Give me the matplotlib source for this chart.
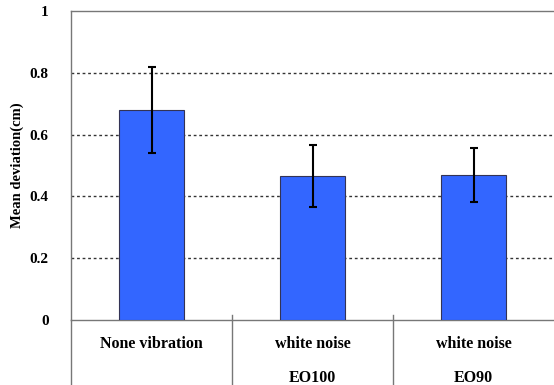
import matplotlib.pyplot as plt
from matplotlib import transforms
import numpy as np

# Data -----
categories = ['None vibration', 'white noise', 'white noise']
sublabels = ['', 'EO100', 'EO90']
means = [0.68, 0.465, 0.47]
errors = [0.14, 0.10, 0.087]
yticks = [0, 0.2, 0.4, 0.6, 0.8, 1]
ytick_labels = ['0', '0.2', '0.4', '0.6', '0.8', '1']

plt.rcParams['font.family'] = 'Liberation Serif'
plt.rcParams['font.weight'] = 'bold'

fig = plt.figure(figsize=(5.54, 3.85), dpi=100)
ax = fig.add_axes([71/554, 65/385, 483/554, 309/385])

x = np.arange(len(means))
ax.bar(x, means, width=0.4, color='#3366FF', edgecolor='#333355', linewidth=0.8, zorder=3)
ax.errorbar(x, means, yerr=errors, fmt='none', ecolor='black', elinewidth=1.5,
            capsize=3, capthick=1.5, zorder=4)

ax.set_xlim(-0.5, 2.5)
ax.set_ylim(0, 1)
ax.set_yticks(yticks)
ax.set_yticklabels(ytick_labels, fontsize=11, fontweight='bold')
ax.set_xticks([])
ax.tick_params(axis='y', length=0, pad=16)
for yv in yticks[1:-1]:
    ax.axhline(yv, color='#333333', linestyle=(0, (2, 2)), linewidth=1, zorder=1)

ax.spines['right'].set_visible(False)
for s in ['top', 'bottom', 'left']:
    ax.spines[s].set_color('#777777')
    ax.spines[s].set_linewidth(1)

# category frame under the axis
trans = transforms.blended_transform_factory(ax.transData, ax.transAxes)
ax.plot([-0.5, -0.5], [0, -65/309], transform=trans, color='#777777', lw=1, clip_on=False)
for sep in [0.5, 1.5]:
    ax.plot([sep, sep], [5/309, -65/309], transform=trans, color='#777777', lw=1, clip_on=False)
for i in range(len(categories)):
    ax.text(x[i], -24/309, categories[i], transform=trans, ha='center', va='center',
            fontsize=11.5, fontweight='bold')
    if sublabels[i]:
        ax.text(x[i], -58/309, sublabels[i], transform=trans, ha='center', va='center',
                fontsize=11.5, fontweight='bold')

fig.text(17/554, (385-165)/385, 'Mean deviation(cm)', rotation=90, ha='center', va='center',
         fontsize=10.5, fontweight='bold')

fig.savefig('out.png', dpi=100)
